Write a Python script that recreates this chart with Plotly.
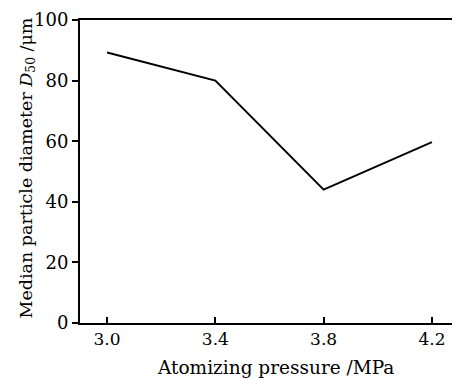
import plotly.graph_objects as go

pressure = [3.0, 3.4, 3.8, 4.2]
d50 = [89.3, 80.0, 44.0, 59.7]
xticks = [3.0, 3.4, 3.8, 4.2]
xticklabels = ["3.0", "3.4", "3.8", "4.2"]
yticks = [0, 20, 40, 60, 80, 100]
xtitle = "Atomizing pressure /MPa"
ytitle = "Median particle diameter <i>D</i><sub>50</sub> /μm"

font = "DejaVu Serif"

fig = go.Figure()
fig.add_trace(go.Scatter(x=pressure, y=d50, mode="lines",
                         line=dict(color="black", width=2), showlegend=False))

fig.update_layout(
    width=452, height=370,
    margin=dict(l=72, r=1, t=12, b=55),
    paper_bgcolor="white", plot_bgcolor="white",
    font=dict(family=font, color="black", size=17),
    xaxis=dict(range=[2.9, 4.3], tickvals=xticks, ticktext=xticklabels,
               ticks="inside", ticklen=6, tickwidth=2, tickcolor="black",
               showline=True, linecolor="black", linewidth=2, mirror=True,
               showgrid=False, zeroline=False, automargin=False,
               tickfont=dict(family=font, size=17)),
    yaxis=dict(range=[0, 100], tickvals=yticks,
               ticks="outside", ticklen=6, tickwidth=2, tickcolor="black",
               showline=True, linecolor="black", linewidth=2,
               showgrid=False, zeroline=False, automargin=False,
               tickfont=dict(family=font, size=18)),
)
fig.add_annotation(text=xtitle, xref="paper", yref="paper", x=0.517, y=0,
                   yshift=-44, xanchor="center", yanchor="middle", showarrow=False,
                   font=dict(family=font, size=18.5))
fig.add_annotation(text=ytitle, xref="paper", yref="paper", x=0, y=0.51,
                   xshift=-53, textangle=-90, xanchor="center", yanchor="middle",
                   showarrow=False, font=dict(family=font, size=17.5))
fig.add_shape(type="line", xref="paper", yref="paper", x0=1, x1=1, y0=0, y1=1,
              line=dict(color="#555", width=1))

fig.write_html("out.html")
